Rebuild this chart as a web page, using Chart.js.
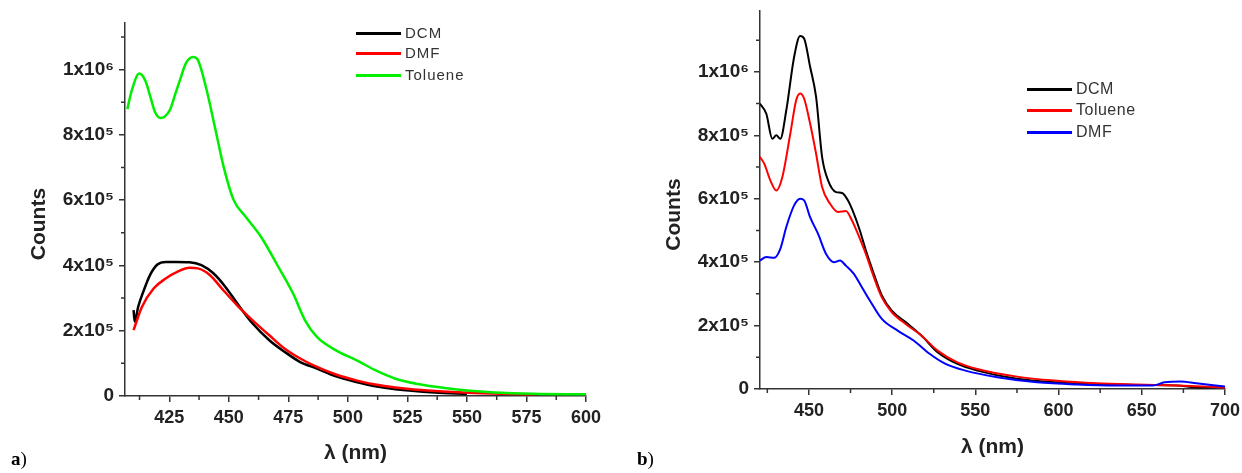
<!DOCTYPE html>
<html>
<head>
<meta charset="utf-8">
<script src="https://cdn.jsdelivr.net/npm/chart.js@4/dist/chart.umd.min.js"></script>
<style>
  html, body { margin: 0; padding: 0; background: #fff; }
  body { width: 1242px; height: 473px; position: relative; overflow: hidden; font-family: "Liberation Sans", Arial, sans-serif; }
  .panel { position: absolute; top: 0; }
  .legend-row { position: absolute; display: flex; align-items: center; white-space: nowrap; height: 18px; line-height: 18px; color: #333; }
  .legend-line { width: 45px; height: 3px; margin-right: 4px; }
  .tag { position: absolute; font-family: "Liberation Serif", "Times New Roman", serif; font-size: 19px; color: #000; }
</style>
</head>
<body>
<canvas id="chartA" class="panel" style="left:0" width="620" height="473"></canvas>
<canvas id="chartB" class="panel" style="left:620px" width="622" height="473"></canvas>
<div id="legendA"></div>
<div id="legendB"></div>
<div class="tag" style="left:11px; top:448px"><b>a</b>)</div>
<div class="tag" style="left:637px; top:448px"><b>b</b>)</div>

<script>
// ============= DATA =============

// panel a
const waveA_DCM = [410, 410.5, 412, 414, 417, 420, 423.5, 428, 433.5, 438.5, 443.5, 448.5, 453.5, 460, 467, 473.5, 480, 487, 495, 503.5, 511.5, 520, 536.5, 550];
const countsA_DCM = [263000, 228000, 275000, 318000, 372000, 403000, 411000, 411000, 410000, 401000, 376000, 335000, 284000, 222000, 171000, 135000, 104000, 84000, 60000, 43000, 30000, 21000, 11000, 6000];

const waveA_DMF = [410, 413.5, 418.5, 423.5, 428.5, 433.5, 437, 442, 447, 453.5, 460, 467, 473.5, 480, 487, 495, 503.5, 511.5, 520, 536.5, 553, 578.5];
const countsA_DMF = [202000, 273000, 330000, 360000, 381000, 393000, 391000, 371000, 330000, 278000, 232000, 186000, 145000, 115000, 89000, 66000, 48000, 35000, 26000, 15000, 9000, 5000];

const waveA_TOL = [407.4, 409, 412.4, 415, 417, 419, 421.2, 423, 425.3, 427.5, 429.5, 432, 435, 437, 440.3, 444.4, 447.8, 452, 457, 463.5, 470, 477, 482, 487, 495, 503.5, 511.5, 520, 530, 540, 550, 561.5, 578, 600];
const countsA_TOL = [879000, 930000, 988000, 965000, 918000, 870000, 852000, 856000, 877000, 925000, 969000, 1020000, 1039000, 1030000, 949000, 816000, 703000, 601000, 550000, 488000, 406000, 314000, 232000, 181000, 140000, 110000, 79000, 53000, 36000, 25000, 17000, 11000, 7000, 5000];

// panel b
const waveB_DCM = [420.5, 424.4, 428, 430.4, 432.8, 436.4, 441.1, 444.7, 447.1, 450.7, 454.3, 457.9, 461.5, 466.3, 469.9, 473.4, 477, 480.6, 484.2, 489, 493.8, 499.8, 508.1, 517.7, 527.3, 539.2, 551.2, 575, 599, 623, 647, 671, 685, 700];
const countsB_DCM = [900000, 868000, 789000, 800000, 789000, 879000, 1047000, 1113000, 1105000, 1016000, 921000, 732000, 658000, 621000, 618000, 595000, 553000, 500000, 437000, 363000, 295000, 247000, 211000, 168000, 116000, 79000, 58000, 32000, 21000, 16000, 13000, 11000, 5000, 6000];

const waveB_TOL = [420.5, 423.2, 426.8, 430.4, 434, 438.8, 442.3, 444.7, 447.1, 450.7, 454.3, 457.9, 462.7, 467.5, 472.2, 475.8, 479.4, 484.2, 489, 493.8, 499.8, 508.1, 517.7, 527.3, 539.2, 551.2, 575, 599, 623, 647, 671, 700];
const countsB_TOL = [732000, 710000, 658000, 626000, 668000, 805000, 910000, 932000, 916000, 837000, 742000, 637000, 584000, 558000, 561000, 532000, 489000, 426000, 353000, 289000, 242000, 205000, 168000, 121000, 84000, 63000, 39000, 26000, 18000, 14000, 11000, 5000];

const waveB_DMF = [420.5, 424.4, 429.2, 432.8, 436.4, 441.1, 444.7, 447.1, 450.7, 455.5, 460.3, 465.1, 468.7, 472.2, 477, 481.8, 486.6, 493.8, 503.3, 512.9, 522.5, 532.1, 544, 563.2, 587.1, 611, 634.9, 656.5, 663.7, 673.3, 682.8, 700];
const countsB_DMF = [405000, 416000, 414000, 442000, 511000, 579000, 600000, 595000, 542000, 489000, 426000, 400000, 405000, 389000, 363000, 321000, 279000, 221000, 184000, 153000, 111000, 79000, 58000, 37000, 21000, 14000, 11000, 11000, 21000, 24000, 18000, 8000];

// ticks
const xTicksA = [425, 450, 475, 500, 525, 550, 575, 600];
const xMinorA = [412.5, 437.5, 462.5, 487.5, 512.5, 537.5, 562.5, 587.5];
const xTicksB = [450, 500, 550, 600, 650, 700];
const xMinorB = [425, 475, 525, 575, 625, 675];
const yTickVals = [0, 200000, 400000, 600000, 800000, 1000000];
const yTickLabels = ['0', '2x10\u2075', '4x10\u2075', '6x10\u2075', '8x10\u2075', '1x10\u2076'];
const yMinor = [100000, 300000, 500000, 700000, 900000, 1100000];

// ============= HELPERS =============

const AXIS_COLOR = '#333';
const FONT = '"Liberation Sans", Arial, sans-serif';

function toPoints(xs, ys) {
    return xs.map((x, i) => ({ x: x, y: ys[i] }));
}

function makeSeries(label, color, xs, ys, order, width) {
    return {
        label: label,
        data: toPoints(xs, ys),
        borderColor: color,
        backgroundColor: color,
        borderWidth: width,
        pointRadius: 0,
        cubicInterpolationMode: 'monotone',
        fill: false,
        order: order
    };
}

// minor ticks drawn with the scales' own pixel mapping
const minorTicks = {
    id: 'minorTicks',
    afterDraw(chart, args, opts) {
        const ctx = chart.ctx;
        const area = chart.chartArea;
        ctx.save();
        ctx.strokeStyle = AXIS_COLOR;
        ctx.lineWidth = 1.5;
        ctx.beginPath();
        opts.x.forEach(v => {
            const px = chart.scales.x.getPixelForValue(v);
            ctx.moveTo(px, area.bottom);
            ctx.lineTo(px, area.bottom + 4);
        });
        opts.y.forEach(v => {
            const py = chart.scales.y.getPixelForValue(v);
            ctx.moveTo(area.left, py);
            ctx.lineTo(area.left - 4, py);
        });
        ctx.stroke();
        ctx.restore();
    }
};

function buildChart(id, cfg) {
    const ctx = document.getElementById(id).getContext('2d');
    return new Chart(ctx, {
        type: 'line',
        data: { datasets: cfg.datasets },
        options: {
            responsive: false,
            animation: false,
            layout: { padding: { top: cfg.top, right: cfg.right, left: 0, bottom: 0 } },
            plugins: {
                legend: { display: false },
                tooltip: { enabled: false },
                minorTicks: { x: cfg.xMinor, y: yMinor }
            },
            scales: {
                x: {
                    type: 'linear',
                    min: cfg.xMin,
                    max: cfg.xMax,
                    afterBuildTicks: s => { s.ticks = cfg.xTicks.map(v => ({ value: v })); },
                    afterFit: s => { s.height = cfg.xHeight; s.paddingLeft = 0; s.paddingRight = 0; },
                    border: { display: true, color: AXIS_COLOR, width: 1.5 },
                    grid: { display: true, drawOnChartArea: false, drawTicks: true, tickLength: 6, color: AXIS_COLOR, lineWidth: 1.5 },
                    ticks: {
                        padding: 5,
                        maxRotation: 0,
                        autoSkip: false,
                        color: '#222',
                        font: { family: FONT, size: 18, weight: 'bold' },
                        callback: v => String(v)
                    },
                    title: {
                        display: true,
                        text: '\u03bb (nm)',
                        color: '#222',
                        font: { family: FONT, size: 21, weight: 'bold' },
                        padding: { top: 0, bottom: cfg.xTitlePad }
                    }
                },
                y: {
                    type: 'linear',
                    min: 0,
                    max: cfg.yMax,
                    afterBuildTicks: s => { s.ticks = yTickVals.map(v => ({ value: v })); },
                    afterFit: s => { s.width = cfg.yWidth; s.paddingTop = 0; s.paddingBottom = 0; },
                    border: { display: true, color: AXIS_COLOR, width: 1.5 },
                    grid: { display: true, drawOnChartArea: false, drawTicks: true, tickLength: 6, color: AXIS_COLOR, lineWidth: 1.5 },
                    ticks: {
                        padding: 5,
                        autoSkip: false,
                        color: '#222',
                        font: { family: FONT, size: 19, weight: 'bold' },
                        callback: v => yTickLabels[yTickVals.indexOf(v)]
                    },
                    title: {
                        display: true,
                        text: 'Counts     ',
                        color: '#222',
                        font: { family: FONT, size: 21, weight: 'bold' },
                        padding: { top: cfg.yTitlePad, bottom: 0 }
                    }
                }
            }
        },
        plugins: [minorTicks]
    });
}

function buildLegend(id, chart, opt) {
    const box = document.getElementById(id);
    opt.rows.forEach((label, i) => {
        const ds = chart.data.datasets.find(d => d.label === label);
        const row = document.createElement('div');
        row.className = 'legend-row';
        row.style.left = opt.left + 'px';
        row.style.top = (opt.ys[i] - 9) + 'px';
        row.style.fontSize = opt.size + 'px';
        row.style.letterSpacing = opt.spacing + 'px';
        row.innerHTML = '<span class="legend-line" style="background:' + ds.borderColor + '"></span><span>' + label + '</span>';
        box.appendChild(row);
    });
}

// ============= CHARTS =============

const chartA = buildChart('chartA', {
    datasets: [
        makeSeries('DCM', '#000000', waveA_DCM, countsA_DCM, 3, 2.5),
        makeSeries('DMF', '#ff0000', waveA_DMF, countsA_DMF, 2, 2.5),
        makeSeries('Toluene', '#00ee00', waveA_TOL, countsA_TOL, 1, 2.5)
    ],
    xMin: 406.4, xMax: 600, yMax: 1143000,
    xTicks: xTicksA, xMinor: xMinorA,
    top: 23, right: 34, xHeight: 77, yWidth: 125,
    xTitlePad: 7, yTitlePad: 27
});

const chartB = buildChart('chartB', {
    datasets: [
        makeSeries('DCM', '#000000', waveB_DCM, countsB_DCM, 3, 2),
        makeSeries('Toluene', '#ff0000', waveB_TOL, countsB_TOL, 2, 2),
        makeSeries('DMF', '#0000ff', waveB_DMF, countsB_DMF, 1, 2)
    ],
    xMin: 420.6, xMax: 700, yMax: 1192000,
    xTicks: xTicksB, xMinor: xMinorB,
    top: 11, right: 17, xHeight: 84, yWidth: 140,
    xTitlePad: 13, yTitlePad: 42
});

buildLegend('legendA', chartA, { rows: ['DCM', 'DMF', 'Toluene'], left: 356, ys: [33, 53, 75], size: 15, spacing: 1 });
buildLegend('legendB', chartB, { rows: ['DCM', 'Toluene', 'DMF'], left: 1027, ys: [89, 110, 132], size: 16, spacing: 0.5 });
</script>
</body>
</html>
